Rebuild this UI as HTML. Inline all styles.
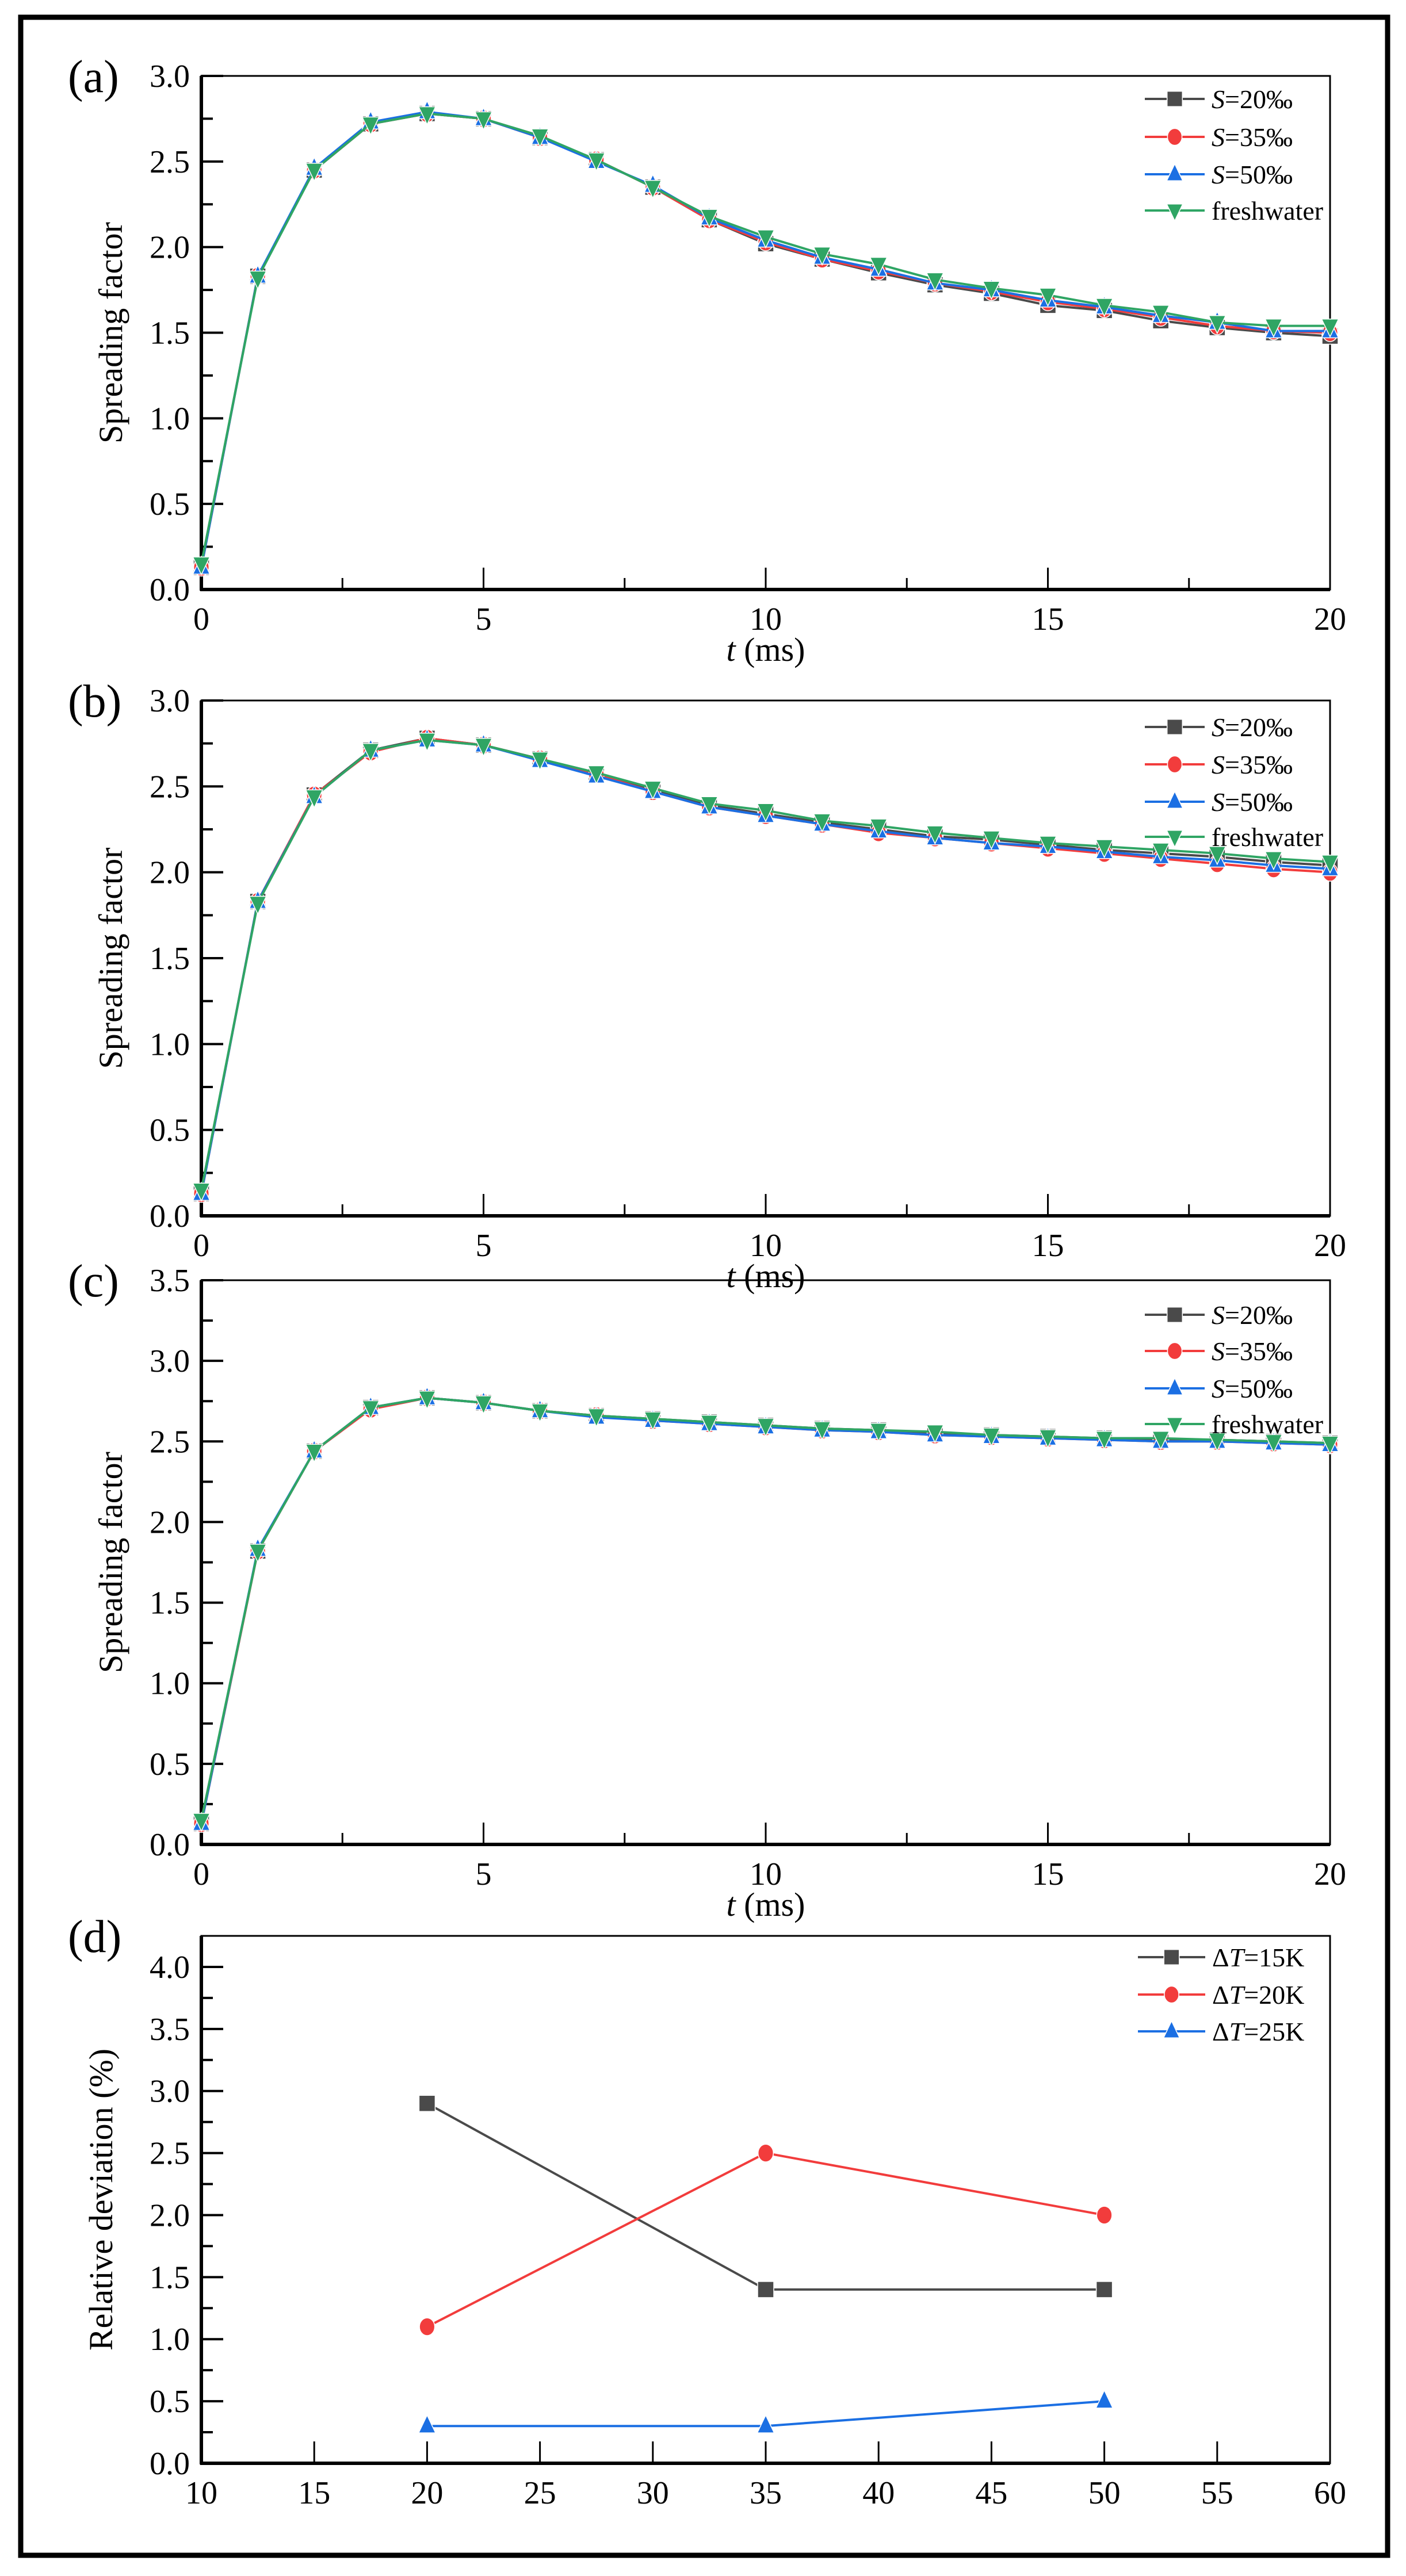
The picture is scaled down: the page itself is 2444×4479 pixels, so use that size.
<!DOCTYPE html>
<html><head><meta charset="utf-8"><style>
html,body{margin:0;padding:0;background:#fff}
svg{display:block;font-family:"Liberation Serif","DejaVu Serif","Times New Roman",serif}
text{font-family:"Liberation Serif","DejaVu Serif","Times New Roman",serif}
</style></head><body>
<svg id="fig" width="2444" height="4479" viewBox="0 0 2444 4479" xmlns="http://www.w3.org/2000/svg">
<rect x="36" y="30" width="2376" height="4413" fill="#fff" stroke="#000" stroke-width="9"/>
</svg>
<script>
const tAxis = [0,1,2,3,4,5,6,7,8,9,10,11,12,13,14,15,16,17,18,19,20];
const seriesNames = ['S=20‰','S=35‰','S=50‰','freshwater'];
const aS20 = [0.13,1.83,2.45,2.72,2.78,2.75,2.64,2.51,2.35,2.16,2.02,1.93,1.85,1.78,1.73,1.66,1.63,1.57,1.53,1.50,1.48];
const aS35 = [0.13,1.83,2.45,2.72,2.78,2.75,2.64,2.51,2.35,2.16,2.03,1.93,1.86,1.79,1.74,1.68,1.64,1.59,1.54,1.51,1.50];
const aS50 = [0.13,1.83,2.46,2.73,2.79,2.75,2.64,2.50,2.36,2.17,2.04,1.94,1.87,1.79,1.75,1.69,1.65,1.60,1.56,1.51,1.51];
const aFW  = [0.15,1.82,2.45,2.72,2.78,2.75,2.65,2.51,2.35,2.18,2.06,1.96,1.90,1.81,1.76,1.72,1.66,1.62,1.56,1.54,1.54];
const bS20 = [0.13,1.83,2.45,2.71,2.78,2.74,2.66,2.57,2.48,2.39,2.34,2.29,2.25,2.21,2.19,2.16,2.13,2.11,2.09,2.06,2.04];
const bS35 = [0.13,1.83,2.45,2.70,2.78,2.74,2.66,2.57,2.47,2.38,2.33,2.28,2.23,2.20,2.17,2.14,2.11,2.08,2.05,2.02,2.00];
const bS50 = [0.13,1.83,2.44,2.71,2.77,2.74,2.65,2.56,2.47,2.38,2.33,2.28,2.24,2.20,2.17,2.15,2.12,2.09,2.07,2.04,2.02];
const bFW  = [0.15,1.82,2.44,2.71,2.77,2.74,2.66,2.58,2.49,2.40,2.36,2.30,2.27,2.23,2.20,2.17,2.15,2.13,2.11,2.08,2.06];
const cS20 = [0.13,1.82,2.44,2.71,2.77,2.74,2.69,2.66,2.64,2.62,2.60,2.58,2.57,2.55,2.54,2.53,2.52,2.51,2.51,2.50,2.49];
const cS35 = [0.13,1.82,2.44,2.70,2.77,2.74,2.69,2.66,2.63,2.61,2.59,2.57,2.56,2.54,2.53,2.52,2.51,2.50,2.50,2.49,2.48];
const cS50 = [0.13,1.83,2.44,2.71,2.77,2.74,2.69,2.65,2.63,2.61,2.59,2.57,2.56,2.54,2.53,2.52,2.51,2.50,2.50,2.49,2.48];
const cFW  = [0.15,1.82,2.44,2.71,2.77,2.74,2.69,2.66,2.64,2.62,2.60,2.58,2.57,2.56,2.54,2.53,2.52,2.52,2.51,2.50,2.49];
const yTicksSpread = ['0.0','0.5','1.0','1.5','2.0','2.5','3.0','3.5'];
const xTicksTime = ['0','5','10','15','20'];
const dSalinity = [20,35,50];
const dT15 = [2.9,1.4,1.4];
const dT20 = [1.1,2.5,2.0];
const dT25 = [0.3,0.3,0.5];
const dNames = ['ΔT=15K','ΔT=20K','ΔT=25K'];
const xTicksD = ['10','15','20','25','30','35','40','45','50','55','60'];
const yTicksD = ['0.0','0.5','1.0','1.5','2.0','2.5','3.0','3.5','4.0'];

const NS='http://www.w3.org/2000/svg';
const svg=document.getElementById('fig');
const COLORS=['#4a4a4a','#f23c3c','#1b6fe3','#2fa564'];
const SHAPES=['square','circle','up','down'];
function mk(tag,attrs,parent){const e=document.createElementNS(NS,tag);for(const k in attrs)e.setAttribute(k,attrs[k]);(parent||svg).appendChild(e);return e;}
function txt(s,x,y,size,anchor,parent){const e=mk('text',{x:x,y:y,'font-size':size,'text-anchor':anchor||'middle',fill:'#000'},parent);e.textContent=s;return e;}
function marker(shape,x,y,color,r,g){
  let e;
  if(shape==='square')e=mk('rect',{x:x-r,y:y-r,width:2*r,height:2*r,fill:color,stroke:'#fff','stroke-width':1.5},g);
  else if(shape==='circle')e=mk('ellipse',{cx:x,cy:y,rx:r*0.95,ry:r*1.1,fill:color,stroke:'#fff','stroke-width':1.5},g);
  else if(shape==='up')e=mk('polygon',{points:`${x},${y-r*1.35} ${x-r*1.05},${y+r*0.85} ${x+r*1.05},${y+r*0.85}`,fill:color,stroke:'#fff','stroke-width':1.5},g);
  else e=mk('polygon',{points:`${x},${y+r*1.35} ${x-r*1.05},${y-r*0.85} ${x+r*1.05},${y-r*0.85}`,fill:color,stroke:'#fff','stroke-width':1.5},g);
  return e;
}
function legendLabel(name,x,y,size,g){
  const t=mk('text',{x:x,y:y,'font-size':size,'text-anchor':'start',fill:'#000'},g);
  const m=name.match(/^(Δ?)([ST])(=.*)$/);
  if(m){
    if(m[1]){const a=mk('tspan',{},t);a.textContent=m[1];}
    const b=mk('tspan',{'font-style':'italic'},t);b.textContent=m[2];
    const c=mk('tspan',{},t);c.textContent=m[3];
  } else t.textContent=name;
}

function panel(cfg){
  const g=mk('g',{});
  
  
  const X=v=>cfg.x0+(v-cfg.xmin)/(cfg.xmax-cfg.xmin)*(cfg.x1-cfg.x0);
  const Y=v=>cfg.y0-(v-cfg.ymin)/(cfg.ymax-cfg.ymin)*(cfg.y0-cfg.yt);
  const fr=mk('rect',{x:cfg.x0,y:cfg.yt,width:cfg.x1-cfg.x0,height:cfg.y0-cfg.yt,fill:'none',stroke:'#000','stroke-width':3},g);
  
  
  const ax=mk('line',{x1:cfg.x0,y1:cfg.yt,x2:cfg.x0,y2:cfg.y0+2,stroke:'#000','stroke-width':6},g);
  
  
  const bx=mk('line',{x1:cfg.x0-2,y1:cfg.y0,x2:cfg.x1,y2:cfg.y0,stroke:'#000','stroke-width':6},g);
  
  
  cfg.yTicks.forEach(s=>{
    const v=parseFloat(s);const y=Y(v);
    mk('line',{x1:cfg.x0,y1:y,x2:cfg.x0+38,y2:y,stroke:'#000','stroke-width':4},g);
    const t=txt(s,cfg.x0-20,y+19,56,'end',g);
    
    
    const ym=Y(v+cfg.ystep/2);
    if(v+cfg.ystep/2<cfg.ymax+1e-9&&ym>cfg.yt) mk('line',{x1:cfg.x0,y1:ym,x2:cfg.x0+20,y2:ym,stroke:'#000','stroke-width':4},g);
  });
  cfg.xTicks.forEach(s=>{
    const v=parseFloat(s);const x=X(v);
    mk('line',{x1:x,y1:cfg.y0,x2:x,y2:cfg.y0-38,stroke:'#000','stroke-width':3},g);
    const t=txt(s,x,cfg.y0+70,56,'middle',g);
    
    
    if(cfg.xminor){const xm=X(v+cfg.xstep/2);if(v+cfg.xstep/2<cfg.xmax)mk('line',{x1:xm,y1:cfg.y0,x2:xm,y2:cfg.y0-20,stroke:'#000','stroke-width':3},g);}
  });
  const yt=txt(cfg.ytitle,0,0,58,'middle',g);
  yt.setAttribute('transform',`translate(${cfg.ytx},${(cfg.yt+cfg.y0)/2}) rotate(-90)`);
  
  
  if(cfg.xtitle){
    const xt=mk('text',{x:(cfg.x0+cfg.x1)/2,y:cfg.y0+124,'font-size':58,'text-anchor':'middle'},g);
    const i=mk('tspan',{'font-style':'italic'},xt);i.textContent='t';
    const r=mk('tspan',{},xt);r.textContent=' (ms)';
    
    
  }
  const pl=txt(cfg.label,118,cfg.yt+28,80,'start',g);
  
  
  cfg.series.forEach((vals,si)=>{
    const sg=mk('g',{},g);
    
    
    const pts=vals.map((v,i)=>X(cfg.xs[i])+','+Y(v)).join(' ');
    mk('polyline',{points:pts,fill:'none',stroke:COLORS[si],'stroke-width':4},sg);
    vals.forEach((v,i)=>{
      const m=marker(SHAPES[si],X(cfg.xs[i]),Y(v),COLORS[si],cfg.mr,sg);
      
      
    });
  });
  const lg=mk('g',{},g);
  
  
  cfg.names.forEach((n,si)=>{
    const y=cfg.legY[si];
    const e=mk('g',{},lg);
    
    
    mk('line',{x1:cfg.legX,y1:y,x2:cfg.legX+cfg.legL,y2:y,stroke:COLORS[si],'stroke-width':4},e);
    marker(SHAPES[si],cfg.legX+cfg.legL/2,y,COLORS[si],cfg.mr*0.95,e);
    legendLabel(n,cfg.legX+cfg.legL+12,y+16,46,e);
  });
}

const common={x0:350,x1:2312,xmin:0,xmax:20,xs:tAxis,xTicks:xTicksTime,xstep:5,xminor:true,ymin:0,ystep:0.5,ytitle:'Spreading factor',ytx:212,xtitle:true,names:seriesNames,mr:14,legX:1990,legL:104};
panel(Object.assign({},common,{name:'panel-a',label:'(a)',yt:132,y0:1025,ymax:3.0,yTicks:yTicksSpread.slice(0,7),series:[aS20,aS35,aS50,aFW],legY:[172,238,303,366]}));
panel(Object.assign({},common,{name:'panel-b',label:'(b)',yt:1218,y0:2114,ymax:3.0,yTicks:yTicksSpread.slice(0,7),series:[bS20,bS35,bS50,bFW],legY:[1264,1329,1394,1455]}));
panel(Object.assign({},common,{name:'panel-c',label:'(c)',yt:2226,y0:3207,ymax:3.5,yTicks:yTicksSpread,series:[cS20,cS35,cS50,cFW],legY:[2286,2349,2414,2476]}));
panel({name:'panel-d',label:'(d)',x0:350,x1:2312,xmin:10,xmax:60,xs:dSalinity,xTicks:xTicksD,xstep:5,xminor:false,yt:3366,y0:4283,ymin:0,ymax:4.25,ystep:0.5,yTicks:yTicksD,ytitle:'Relative deviation (%)',ytx:195,xtitle:false,names:dNames,series:[dT15,dT20,dT25],mr:14,legX:1978,legL:117,legY:[3403,3468,3532]});
</script>
</body></html>
